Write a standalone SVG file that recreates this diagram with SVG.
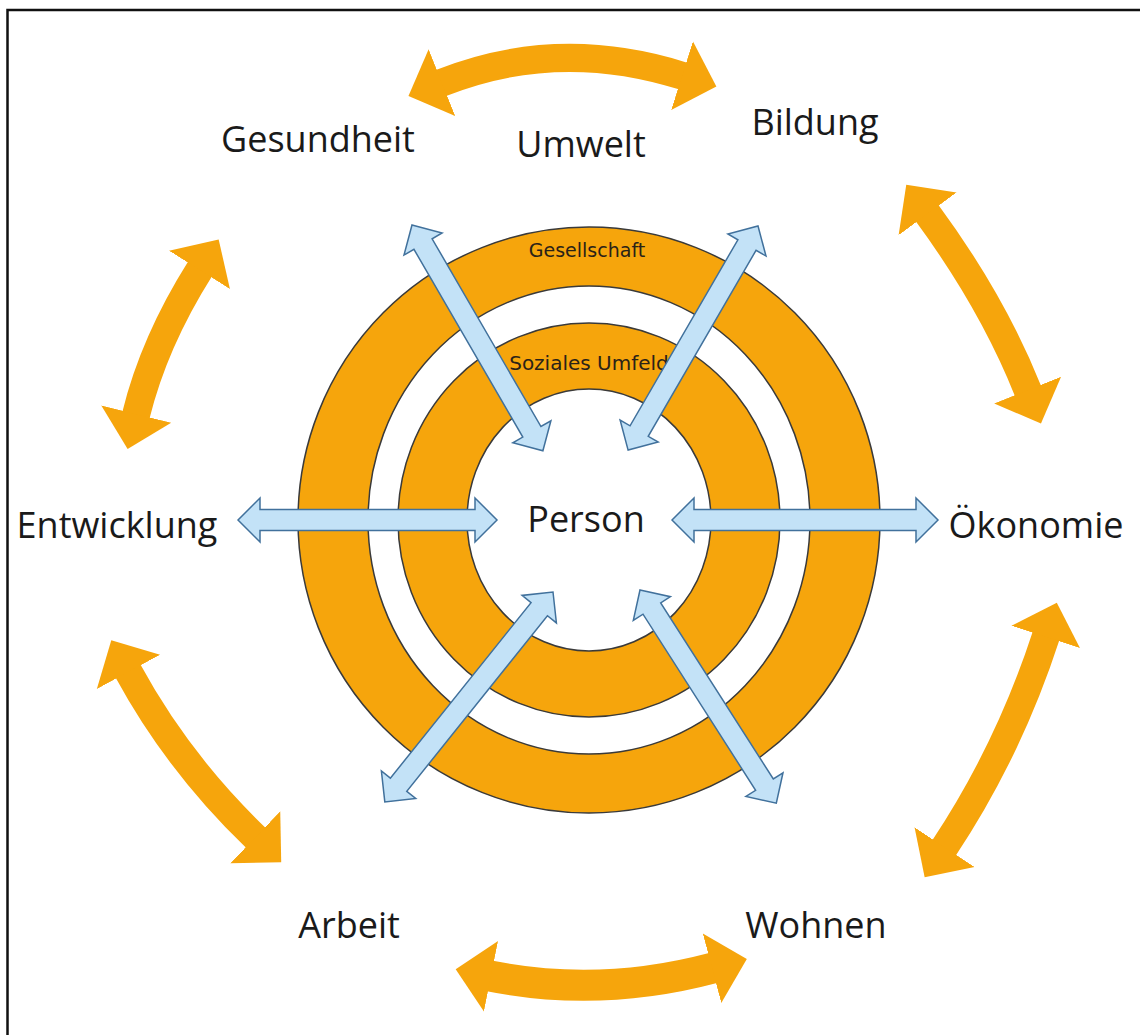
<svg xmlns="http://www.w3.org/2000/svg" width="1140" height="1035" viewBox="0 0 1140 1035">
<style>
.ring{fill:#F6A50C;stroke:#3a3a3a;stroke-width:1.5}
.gap{fill:#ffffff;stroke:#3a3a3a;stroke-width:1.5}
.rl{font-family:"DejaVu Sans",sans-serif;fill:#2a2218;text-anchor:middle}
.lbl{font-family:"Open Sans","Liberation Sans",sans-serif;font-size:36px;fill:#1a1a1a;text-anchor:middle}
.ba{fill:#C3E2F7;stroke:#41719C;stroke-width:1.5;stroke-linejoin:miter}
.oa{fill:none;stroke:#F6A50C;stroke-width:28;marker-start:url(#oh);marker-end:url(#oh)}
</style>
<defs>
<marker id="oh" markerUnits="userSpaceOnUse" viewBox="0 -40 40 80" markerWidth="40" markerHeight="80" refX="1" refY="0" orient="auto-start-reverse">
<path d="M0,-36 L36,0 L0,36 Z" fill="#F6A50C"/>
</marker>
</defs>
<rect x="7.5" y="10" width="1150" height="1050" fill="#ffffff" stroke="#111" stroke-width="2.5"/>
<g id="rings">
<ellipse class="ring" cx="589" cy="520" rx="291" ry="293"/>
<ellipse class="gap" cx="589" cy="520" rx="221" ry="234"/>
<ellipse class="ring" cx="589" cy="520" rx="191" ry="197"/>
<ellipse class="gap" cx="589" cy="520" rx="122" ry="131"/>
<text class="rl" x="587" y="257" font-size="19">Gesellschaft</text>
<text class="rl" x="589" y="370" font-size="20">Soziales Umfeld</text>
</g>
<g id="connectors">
<g id="orange-arrows">
<path class="oa" d="M441,83 Q558,36.5 683,76"/>
<path class="oa" d="M927,213 Q992.5,302 1028,391"/>
<path class="oa" d="M1046,636 Q1009,750 944,848"/>
<path class="oa" d="M490,976 Q600,998 713,968" style="stroke-width:31"/>
<path class="oa" d="M128,671 Q178,763 256,838"/>
<path class="oa" d="M200,269 Q154,342 136,415"/>
</g>
<g id="blue-arrows">
<path class="ba" transform="translate(238,520)" d="M0,0 L22,-22 L22,-10.5 L237,-10.5 L237,-22 L259,0 L237,22 L237,10.5 L22,10.5 L22,22 Z"/>
<path class="ba" transform="translate(672,520)" d="M0,0 L22,-22 L22,-10.5 L244,-10.5 L244,-22 L266,0 L244,22 L244,10.5 L22,10.5 L22,22 Z"/>
<path class="ba" transform="translate(412,225) rotate(59.9)" d="M0,0 L22,-22 L22,-10.5 L239,-10.5 L239,-22 L261,0 L239,22 L239,10.5 L22,10.5 L22,22 Z"/>
<path class="ba" transform="translate(758,226) rotate(120.1)" d="M0,0 L22,-22 L22,-10.5 L237,-10.5 L237,-22 L259,0 L237,22 L237,10.5 L22,10.5 L22,22 Z"/>
<path class="ba" transform="translate(553,592) rotate(128.7)" d="M0,0 L22,-22 L22,-10.5 L247,-10.5 L247,-22 L269,0 L247,22 L247,10.5 L22,10.5 L22,22 Z"/>
<path class="ba" transform="translate(640,590) rotate(57.4)" d="M0,0 L22,-22 L22,-10.5 L231,-10.5 L231,-22 L253,0 L231,22 L231,10.5 L22,10.5 L22,22 Z"/>
</g>
</g>
<g id="node-person"><text class="lbl" x="586" y="532">Person</text></g>
<g id="node-gesundheit"><text class="lbl" x="318" y="152">Gesundheit</text></g>
<g id="node-umwelt"><text class="lbl" x="581" y="157">Umwelt</text></g>
<g id="node-bildung"><text class="lbl" x="815" y="135">Bildung</text></g>
<g id="node-entwicklung"><text class="lbl" x="117" y="538">Entwicklung</text></g>
<g id="node-oekonomie"><text class="lbl" x="1036" y="538">Ökonomie</text></g>
<g id="node-arbeit"><text class="lbl" x="349" y="938">Arbeit</text></g>
<g id="node-wohnen"><text class="lbl" x="816" y="938">Wohnen</text></g>
</svg>
